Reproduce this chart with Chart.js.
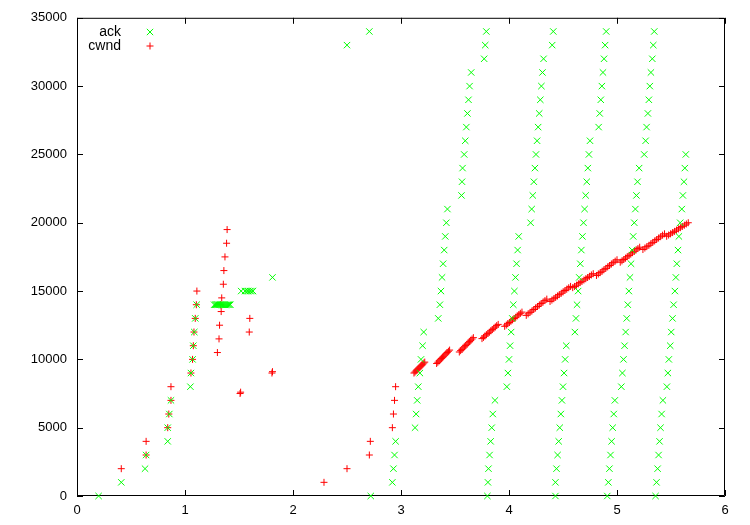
<!DOCTYPE html>
<html>
<head>
<meta charset="utf-8">
<script src="https://cdn.jsdelivr.net/npm/chart.js@4"></script>
<style>
  html, body { margin: 0; background: #fff; }
</style>
</head>
<body>
<canvas id="myChart" width="750" height="525"></canvas>
<script>
// tick labels
const xTicks = [0, 1, 2, 3, 4, 5, 6];
const yTicks = [0, 5000, 10000, 15000, 20000, 25000, 30000, 35000];

// ack: [time, seq]
const ack = [
  [0.20, 0], [0.41, 1000], [0.63, 2000], [0.64, 3000], [0.84, 4000], [0.84, 5000],
  [0.855, 6000], [0.87, 7000], [1.05, 8000], [1.055, 9000], [1.07, 10000],
  [1.077, 11000], [1.086, 12000], [1.095, 13000], [1.108, 14000],
  [1.27, 14000], [1.28, 14000], [1.29, 14000], [1.30, 14000], [1.31, 14000],
  [1.32, 14000], [1.33, 14000], [1.34, 14000], [1.35, 14000], [1.36, 14000],
  [1.37, 14000], [1.38, 14000], [1.39, 14000], [1.40, 14000], [1.41, 14000], [1.42, 14000],
  [1.52, 15000], [1.555, 15000], [1.57, 15000], [1.585, 15000], [1.60, 15000],
  [1.615, 15000], [1.63, 15000], [1.81, 16000],
  [2.50, 33000], [2.707, 34000], [2.72, 0],
  [2.92, 1000], [2.93, 2000], [2.94, 3000], [2.95, 4000],
  [3.13, 5000], [3.14, 6000], [3.15, 7000], [3.16, 8000], [3.175, 9000],
  [3.185, 10000], [3.20, 11000], [3.21, 12000],
  [3.345, 13000], [3.36, 14000], [3.37, 15000], [3.38, 16000], [3.39, 17000],
  [3.40, 18000], [3.41, 19000], [3.42, 20000], [3.43, 21000],
  [3.56, 22000], [3.565, 23000], [3.57, 24000], [3.585, 25000], [3.595, 26000],
  [3.605, 27000], [3.615, 28000], [3.625, 29000], [3.635, 30000], [3.65, 31000],
  [3.77, 32000], [3.78, 33000], [3.79, 34000],
  [3.80, 0], [3.805, 1000], [3.81, 2000], [3.82, 3000], [3.83, 4000],
  [3.84, 5000], [3.85, 6000], [3.87, 7000],
  [3.98, 8000], [3.99, 9000], [4.00, 10000], [4.01, 11000], [4.02, 12000],
  [4.03, 13000], [4.04, 14000], [4.05, 15000], [4.06, 16000], [4.07, 17000],
  [4.08, 18000], [4.09, 19000],
  [4.20, 20000], [4.21, 21000], [4.22, 22000], [4.23, 23000], [4.24, 24000],
  [4.25, 25000], [4.26, 26000], [4.27, 27000], [4.28, 28000], [4.29, 29000],
  [4.30, 30000], [4.31, 31000], [4.32, 32000],
  [4.40, 33000], [4.41, 34000],
  [4.43, 0], [4.43, 1000], [4.44, 2000], [4.45, 3000], [4.46, 4000], [4.47, 5000],
  [4.48, 6000], [4.49, 7000], [4.50, 8000], [4.51, 9000], [4.52, 10000], [4.53, 11000],
  [4.61, 12000], [4.62, 13000], [4.63, 14000], [4.64, 15000], [4.65, 16000],
  [4.66, 17000], [4.67, 18000], [4.68, 19000], [4.69, 20000], [4.70, 21000],
  [4.71, 22000], [4.72, 23000], [4.73, 24000], [4.74, 25000], [4.75, 26000],
  [4.83, 27000], [4.84, 28000], [4.85, 29000], [4.86, 30000], [4.87, 31000],
  [4.88, 32000], [4.89, 33000], [4.90, 34000],
  [4.91, 0], [4.92, 1000], [4.93, 2000], [4.94, 3000], [4.95, 4000],
  [4.96, 5000], [4.97, 6000], [4.98, 7000],
  [5.04, 8000], [5.05, 9000], [5.06, 10000], [5.07, 11000], [5.08, 12000],
  [5.09, 13000], [5.10, 14000], [5.11, 15000], [5.12, 16000], [5.13, 17000],
  [5.14, 18000], [5.15, 19000], [5.16, 20000], [5.17, 21000], [5.18, 22000],
  [5.19, 23000], [5.205, 24000],
  [5.252, 25000], [5.265, 26000], [5.274, 27000], [5.286, 28000], [5.295, 29000],
  [5.304, 30000], [5.314, 31000], [5.327, 32000], [5.336, 33000], [5.345, 34000],
  [5.357, 0], [5.366, 1000], [5.376, 2000], [5.385, 3000], [5.394, 4000],
  [5.403, 5000], [5.413, 6000], [5.425, 7000],
  [5.462, 8000], [5.471, 9000], [5.48, 10000], [5.493, 11000], [5.502, 12000],
  [5.514, 13000], [5.524, 14000], [5.536, 15000], [5.545, 16000], [5.554, 17000],
  [5.565, 18000], [5.573, 19000], [5.585, 20000], [5.60, 21000], [5.61, 22000],
  [5.62, 23000], [5.628, 24000], [5.637, 25000]
];

// cwnd: [time, window]
const cwnd = [
  [0.41, 2000], [0.64, 3000], [0.64, 4000], [0.84, 5000], [0.85, 6000], [0.87, 7000],
  [0.87, 8000], [1.055, 9000], [1.07, 10000], [1.077, 11000], [1.083, 12000],
  [1.095, 13000], [1.105, 14000], [1.11, 15000],
  [1.30, 10500], [1.315, 11500], [1.32, 12500], [1.335, 13500], [1.33, 14000],
  [1.34, 14500], [1.355, 15500], [1.36, 16500], [1.37, 17500], [1.385, 18500], [1.39, 19500],
  [1.51, 7500], [1.515, 7600], [1.595, 12000], [1.60, 13000], [1.805, 9000], [1.81, 9100],
  [2.287, 1000], [2.50, 2000], [2.707, 3000], [2.716, 4000],
  [2.92, 5000], [2.93, 6000], [2.94, 7000], [2.95, 8000],
  [3.120, 9000], [3.129, 9070], [3.138, 9150], [3.147, 9220], [3.156, 9290], [3.165, 9360],
  [3.175, 9440], [3.184, 9510], [3.193, 9580], [3.202, 9650], [3.211, 9730], [3.220, 9800],
  [3.330, 9700], [3.341, 9790], [3.352, 9880], [3.363, 9970], [3.374, 10060], [3.385, 10150],
  [3.395, 10230], [3.406, 10320], [3.417, 10410], [3.428, 10500], [3.439, 10590], [3.450, 10680],
  [3.540, 10540], [3.552, 10640], [3.564, 10730], [3.575, 10830], [3.587, 10920], [3.599, 11020],
  [3.611, 11110], [3.623, 11210], [3.635, 11300], [3.646, 11400], [3.658, 11490], [3.670, 11590],
  [3.750, 11520], [3.764, 11610], [3.777, 11710], [3.791, 11800], [3.805, 11900], [3.818, 11990],
  [3.832, 12090], [3.845, 12180], [3.859, 12280], [3.873, 12370], [3.886, 12470], [3.900, 12560],
  [3.960, 12420], [3.975, 12510], [3.989, 12610], [4.004, 12700], [4.018, 12800], [4.033, 12890],
  [4.047, 12990], [4.062, 13080], [4.076, 13180], [4.091, 13270], [4.105, 13370], [4.120, 13460],
  [4.160, 13220], [4.177, 13330], [4.195, 13440], [4.212, 13540], [4.229, 13650], [4.246, 13760],
  [4.264, 13870], [4.281, 13980], [4.298, 14090], [4.315, 14190], [4.333, 14300], [4.350, 14410],
  [4.380, 14240], [4.397, 14340], [4.415, 14440], [4.432, 14540], [4.449, 14640], [4.466, 14740],
  [4.484, 14840], [4.501, 14940], [4.518, 15040], [4.535, 15140], [4.553, 15240], [4.570, 15340],
  [4.590, 15250], [4.607, 15340], [4.625, 15430], [4.642, 15530], [4.659, 15620], [4.676, 15710],
  [4.694, 15810], [4.711, 15900], [4.728, 15990], [4.745, 16080], [4.763, 16180], [4.780, 16270],
  [4.810, 16140], [4.827, 16250], [4.845, 16350], [4.862, 16450], [4.879, 16560], [4.896, 16660],
  [4.914, 16770], [4.931, 16870], [4.948, 16980], [4.965, 17080], [4.983, 17190], [5.000, 17290],
  [5.030, 17110], [5.046, 17210], [5.063, 17310], [5.079, 17410], [5.095, 17510], [5.112, 17610],
  [5.128, 17710], [5.144, 17810], [5.161, 17910], [5.177, 18010], [5.194, 18110], [5.210, 18210],
  [5.240, 18040], [5.258, 18150], [5.276, 18250], [5.295, 18350], [5.313, 18460], [5.331, 18560],
  [5.349, 18670], [5.367, 18770], [5.385, 18880], [5.404, 18980], [5.422, 19090], [5.440, 19190],
  [5.460, 19010], [5.478, 19100], [5.496, 19190], [5.515, 19280], [5.533, 19370], [5.551, 19460],
  [5.569, 19550], [5.587, 19640], [5.605, 19730], [5.624, 19820], [5.642, 19910], [5.660, 20000]
];

const FONT = "'Liberation Sans', Arial, Helvetica, sans-serif";
const GREEN = "#00ff00";
const RED = "#ff0000";

// gnuplot style border with inward ticks on all four sides
const frame = {
  id: "frame",
  beforeDatasetsDraw(chart) {
    const { ctx, chartArea: a, scales } = chart;
    ctx.save();
    ctx.strokeStyle = "#000";
    ctx.lineWidth = 1;
    ctx.beginPath();
    ctx.rect(a.left + 0.5, a.top + 0.5, a.right - a.left - 1, a.bottom - a.top - 1);
    xTicks.forEach(v => {
      const px = Math.round(scales.x.getPixelForValue(v)) + 0.5;
      ctx.moveTo(px, a.bottom);
      ctx.lineTo(px, a.bottom - 6);
      ctx.moveTo(px, a.top);
      ctx.lineTo(px, a.top + 6);
    });
    yTicks.forEach(v => {
      const py = Math.round(scales.y.getPixelForValue(v)) + 0.5;
      ctx.moveTo(a.left, py);
      ctx.lineTo(a.left + 6, py);
      ctx.moveTo(a.right, py);
      ctx.lineTo(a.right - 6, py);
    });
    ctx.stroke();
    ctx.restore();
  }
};

// key in the top left corner: label right aligned, sample to its right
const key = {
  id: "key",
  afterDraw(chart) {
    const { ctx } = chart;
    const items = [
      { text: "ack", style: "crossRot", color: GREEN, r: 4.5, y: 32 },
      { text: "cwnd", style: "cross", color: RED, r: 3.5, y: 46 }
    ];
    ctx.save();
    ctx.font = "14px " + FONT;
    ctx.textAlign = "right";
    ctx.textBaseline = "middle";
    ctx.fillStyle = "#000";
    items.forEach(it => {
      ctx.fillText(it.text, 121, it.y);
      ctx.strokeStyle = it.color;
      ctx.lineWidth = 1;
      Chart.helpers.drawPoint(ctx, { pointStyle: it.style, radius: it.r, borderWidth: 1 }, 150, it.y);
    });
    ctx.restore();
  }
};

const toPoints = arr => arr.map(([x, y]) => ({ x, y }));

new Chart(document.getElementById("myChart").getContext("2d"), {
  type: "scatter",
  data: {
    datasets: [
      {
        label: "ack",
        data: toPoints(ack),
        pointStyle: "crossRot",
        pointRadius: 4.5,
        borderColor: GREEN,
        backgroundColor: GREEN,
        pointBorderWidth: 1,
        clip: false
      },
      {
        label: "cwnd",
        data: toPoints(cwnd),
        pointStyle: "cross",
        pointRadius: 3.5,
        borderColor: RED,
        backgroundColor: RED,
        pointBorderWidth: 1,
        clip: false
      }
    ]
  },
  options: {
    responsive: false,
    animation: false,
    layout: { padding: { top: 17, right: 25, left: 0, bottom: 0 } },
    plugins: {
      legend: { display: false },
      tooltip: { enabled: false }
    },
    scales: {
      x: {
        type: "linear",
        min: 0,
        max: 6,
        afterFit: s => { s.height = 29; },
        afterBuildTicks: s => { s.ticks = xTicks.map(v => ({ value: v })); },
        grid: { display: false, drawTicks: false },
        border: { display: false },
        ticks: { color: "#000", padding: 7, maxRotation: 0, font: { family: FONT, size: 13 } }
      },
      y: {
        type: "linear",
        min: 0,
        max: 35000,
        afterFit: s => { s.width = 77; },
        afterBuildTicks: s => { s.ticks = yTicks.map(v => ({ value: v })); },
        grid: { display: false, drawTicks: false },
        border: { display: false },
        ticks: { color: "#000", padding: 10, font: { family: FONT, size: 13 }, callback: v => String(v) }
      }
    }
  },
  plugins: [frame, key]
});
</script>
</body>
</html>
